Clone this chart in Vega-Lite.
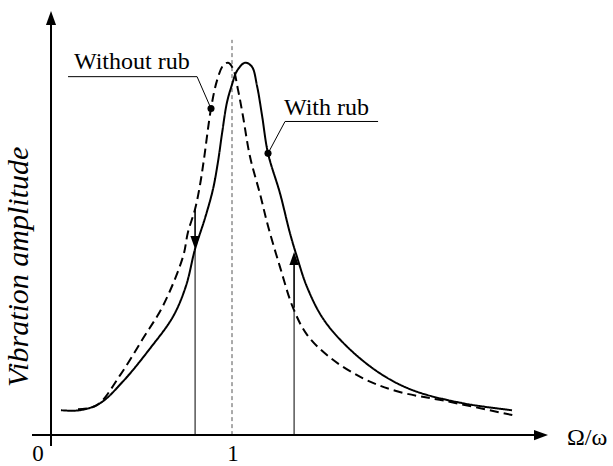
{
  "$schema": "https://vega.github.io/schema/vega-lite/v6.json",
  "width": 613,
  "height": 466,
  "autosize": {"type": "fit", "contains": "padding"},
  "padding": 0,
  "background": "white",
  "config": {"view": {"stroke": null}},
  "datasets": {
    "curves": [
      {"series": "With rub", "x": 0.055, "y": 0.25},
      {"series": "With rub", "x": 0.160, "y": 0.25},
      {"series": "With rub", "x": 0.271, "y": 0.32},
      {"series": "With rub", "x": 0.398, "y": 0.54},
      {"series": "With rub", "x": 0.547, "y": 0.87},
      {"series": "With rub", "x": 0.674, "y": 1.19},
      {"series": "With rub", "x": 0.746, "y": 1.50},
      {"series": "With rub", "x": 0.796, "y": 1.87},
      {"series": "With rub", "x": 0.851, "y": 2.18},
      {"series": "With rub", "x": 0.895, "y": 2.47},
      {"series": "With rub", "x": 0.923, "y": 2.75},
      {"series": "With rub", "x": 0.945, "y": 3.03},
      {"series": "With rub", "x": 0.972, "y": 3.34},
      {"series": "With rub", "x": 1.000, "y": 3.52},
      {"series": "With rub", "x": 1.028, "y": 3.66},
      {"series": "With rub", "x": 1.072, "y": 3.74},
      {"series": "With rub", "x": 1.110, "y": 3.70},
      {"series": "With rub", "x": 1.138, "y": 3.51},
      {"series": "With rub", "x": 1.166, "y": 3.21},
      {"series": "With rub", "x": 1.199, "y": 2.83},
      {"series": "With rub", "x": 1.265, "y": 2.43},
      {"series": "With rub", "x": 1.320, "y": 2.03},
      {"series": "With rub", "x": 1.359, "y": 1.79},
      {"series": "With rub", "x": 1.414, "y": 1.49},
      {"series": "With rub", "x": 1.503, "y": 1.17},
      {"series": "With rub", "x": 1.635, "y": 0.89},
      {"series": "With rub", "x": 1.818, "y": 0.62},
      {"series": "With rub", "x": 2.000, "y": 0.45},
      {"series": "With rub", "x": 2.276, "y": 0.32},
      {"series": "With rub", "x": 2.547, "y": 0.25},
      {"series": "Without rub", "x": 0.149, "y": 0.26},
      {"series": "Without rub", "x": 0.254, "y": 0.30},
      {"series": "Without rub", "x": 0.381, "y": 0.60},
      {"series": "Without rub", "x": 0.508, "y": 0.97},
      {"series": "Without rub", "x": 0.619, "y": 1.30},
      {"series": "Without rub", "x": 0.729, "y": 1.79},
      {"series": "Without rub", "x": 0.757, "y": 2.04},
      {"series": "Without rub", "x": 0.796, "y": 2.27},
      {"series": "Without rub", "x": 0.823, "y": 2.51},
      {"series": "Without rub", "x": 0.845, "y": 2.77},
      {"series": "Without rub", "x": 0.884, "y": 3.28},
      {"series": "Without rub", "x": 0.917, "y": 3.56},
      {"series": "Without rub", "x": 0.950, "y": 3.71},
      {"series": "Without rub", "x": 0.978, "y": 3.74},
      {"series": "Without rub", "x": 1.006, "y": 3.68},
      {"series": "Without rub", "x": 1.033, "y": 3.47},
      {"series": "Without rub", "x": 1.061, "y": 3.20},
      {"series": "Without rub", "x": 1.099, "y": 2.80},
      {"series": "Without rub", "x": 1.155, "y": 2.42},
      {"series": "Without rub", "x": 1.199, "y": 2.10},
      {"series": "Without rub", "x": 1.265, "y": 1.69},
      {"series": "Without rub", "x": 1.337, "y": 1.28},
      {"series": "Without rub", "x": 1.414, "y": 1.01},
      {"series": "Without rub", "x": 1.541, "y": 0.78},
      {"series": "Without rub", "x": 1.724, "y": 0.57},
      {"series": "Without rub", "x": 1.912, "y": 0.44},
      {"series": "Without rub", "x": 2.188, "y": 0.34},
      {"series": "Without rub", "x": 2.552, "y": 0.20}
    ],
    "segments": [
      {"kind": "axis", "x": 0, "y": -0.11, "x2": 0, "y2": 4.16},
      {"kind": "axis", "x": -0.105, "y": 0, "x2": 2.70, "y2": 0},
      {"kind": "resonance", "x": 1, "y": 0, "x2": 1, "y2": 3.97},
      {"kind": "thin", "x": 0.796, "y": 0, "x2": 0.796, "y2": 1.88},
      {"kind": "thin", "x": 1.343, "y": 0, "x2": 1.343, "y2": 1.25},
      {"kind": "shaft", "x": 0.796, "y": 2.27, "x2": 0.796, "y2": 1.96},
      {"kind": "shaft", "x": 1.343, "y": 1.28, "x2": 1.343, "y2": 1.76},
      {"kind": "leader", "x": 0.094, "y": 3.60, "x2": 0.807, "y2": 3.60},
      {"kind": "leader", "x": 0.807, "y": 3.60, "x2": 0.884, "y2": 3.28},
      {"kind": "leader", "x": 1.199, "y": 2.83, "x2": 1.293, "y2": 3.15},
      {"kind": "leader", "x": 1.293, "y": 3.15, "x2": 1.807, "y2": 3.15}
    ],
    "dots": [
      {"label": "Without rub", "x": 0.884, "y": 3.28},
      {"label": "With rub", "x": 1.199, "y": 2.83}
    ],
    "heads": [
      {"dir": "up", "size": "large", "x": 0, "y": 4.26},
      {"dir": "right", "size": "large", "x": 2.746, "y": 0},
      {"dir": "down", "size": "small", "x": 0.796, "y": 1.87},
      {"dir": "up", "size": "small", "x": 1.343, "y": 1.84}
    ],
    "labels": [
      {"kind": "note", "text": "Without rub", "x": 0.127, "y": 3.68},
      {"kind": "note", "text": "With rub", "x": 1.287, "y": 3.22},
      {"kind": "note", "text": "Ω/ω", "x": 2.851, "y": -0.10},
      {"kind": "tick", "text": "0", "x": -0.072, "y": -0.26},
      {"kind": "tick", "text": "1", "x": 1.006, "y": -0.26},
      {"kind": "title", "text": "Vibration amplitude", "x": -0.127, "y": 1.69}
    ]
  },
  "encoding": {
    "x": {"field": "x", "type": "quantitative", "axis": null, "scale": {"domain": [-0.2818, 3.105], "nice": false, "zero": false}},
    "y": {"field": "y", "type": "quantitative", "axis": null, "scale": {"domain": [-0.29, 4.37], "nice": false, "zero": false}}
  },
  "layer": [
    {
      "data": {"name": "segments"},
      "transform": [{"filter": "datum.kind === 'resonance'"}],
      "mark": {"type": "rule", "color": "#555555", "strokeWidth": 1, "strokeDash": [4, 3]},
      "encoding": {"x2": {"field": "x2"}, "y2": {"field": "y2"}}
    },
    {
      "data": {"name": "segments"},
      "transform": [{"filter": "datum.kind === 'thin' || datum.kind === 'leader'"}],
      "mark": {"type": "rule", "color": "black", "strokeWidth": 1},
      "encoding": {"x2": {"field": "x2"}, "y2": {"field": "y2"}}
    },
    {
      "data": {"name": "segments"},
      "transform": [{"filter": "datum.kind === 'shaft'"}],
      "mark": {"type": "rule", "color": "black", "strokeWidth": 1.6},
      "encoding": {"x2": {"field": "x2"}, "y2": {"field": "y2"}}
    },
    {
      "data": {"name": "segments"},
      "transform": [{"filter": "datum.kind === 'axis'"}],
      "mark": {"type": "rule", "color": "black", "strokeWidth": 2},
      "encoding": {"x2": {"field": "x2"}, "y2": {"field": "y2"}}
    },
    {
      "data": {"name": "curves"},
      "mark": {"type": "line", "color": "black", "strokeWidth": 2, "interpolate": "catmull-rom"},
      "encoding": {
        "strokeDash": {"field": "series", "type": "nominal", "legend": null, "scale": {"domain": ["With rub", "Without rub"], "range": [[1, 0], [9, 5]]}},
        "order": {"field": "x", "type": "quantitative"}
      }
    },
    {
      "data": {"name": "dots"},
      "mark": {"type": "point", "shape": "circle", "filled": true, "color": "black", "opacity": 1, "size": 50}
    },
    {
      "data": {"name": "heads"},
      "transform": [{"filter": "datum.dir === 'up' && datum.size === 'large'"}],
      "mark": {"type": "point", "shape": "M0,0L0.72,2L-0.72,2Z", "filled": true, "color": "black", "opacity": 1, "size": 196, "strokeWidth": 0}
    },
    {
      "data": {"name": "heads"},
      "transform": [{"filter": "datum.dir === 'right'"}],
      "mark": {"type": "point", "shape": "M0,0L-2,-0.72L-2,0.72Z", "filled": true, "color": "black", "opacity": 1, "size": 196, "strokeWidth": 0}
    },
    {
      "data": {"name": "heads"},
      "transform": [{"filter": "datum.dir === 'up' && datum.size === 'small'"}],
      "mark": {"type": "point", "shape": "M0,0L0.72,2L-0.72,2Z", "filled": true, "color": "black", "opacity": 1, "size": 169, "strokeWidth": 0}
    },
    {
      "data": {"name": "heads"},
      "transform": [{"filter": "datum.dir === 'down'"}],
      "mark": {"type": "point", "shape": "M0,0L0.72,-2L-0.72,-2Z", "filled": true, "color": "black", "opacity": 1, "size": 169, "strokeWidth": 0}
    },
    {
      "data": {"name": "labels"},
      "transform": [{"filter": "datum.kind === 'note'"}],
      "mark": {"type": "text", "font": "Liberation Serif", "fontSize": 24, "align": "left", "baseline": "alphabetic", "color": "black"},
      "encoding": {"text": {"field": "text"}}
    },
    {
      "data": {"name": "labels"},
      "transform": [{"filter": "datum.kind === 'tick'"}],
      "mark": {"type": "text", "font": "Liberation Serif", "fontSize": 23, "align": "center", "baseline": "alphabetic", "color": "black"},
      "encoding": {"text": {"field": "text"}}
    },
    {
      "data": {"name": "labels"},
      "transform": [{"filter": "datum.kind === 'title'"}],
      "mark": {"type": "text", "font": "Liberation Serif", "fontSize": 30, "fontStyle": "italic", "angle": 270, "align": "center", "baseline": "alphabetic", "color": "black"},
      "encoding": {"text": {"field": "text"}}
    }
  ]
}
